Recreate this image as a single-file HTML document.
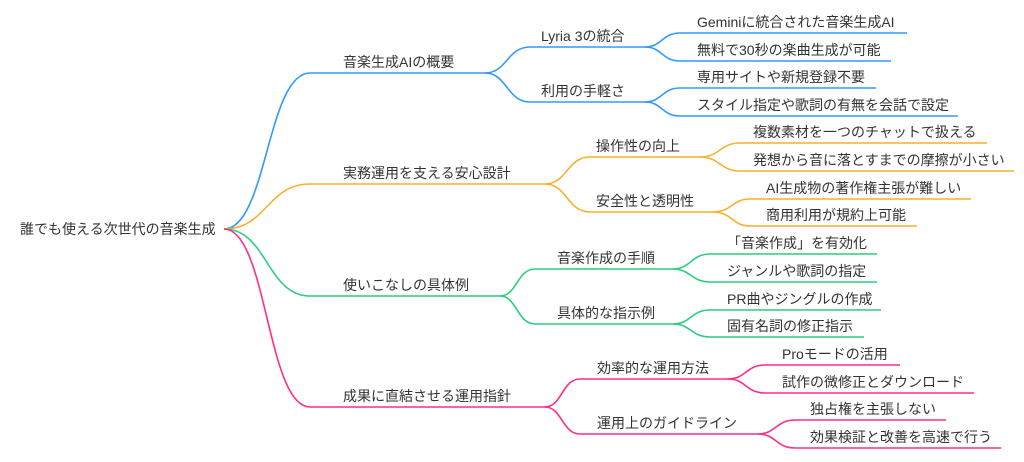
<!DOCTYPE html>
<html><head><meta charset="utf-8"><style>
html,body{margin:0;padding:0;background:#fff;}
svg text{font-family:"Liberation Sans","Noto Sans CJK JP",sans-serif;font-size:14px;fill:#333;}
path{fill:none;stroke-width:1.6;}
.b{stroke:#3399ff}.o{stroke:#f5b12e}.g{stroke:#2ecc80}.p{stroke:#ff2d87}
</style></head><body>
<svg width="1024" height="457" viewBox="0 0 1024 457" xmlns="http://www.w3.org/2000/svg">
<text x="20" y="234">誰でも使える次世代の音楽生成</text>
<!-- level1 -->
<path class="b" d="M224 229 C267 229 267 73 310 73 L485 73"/>
<path class="o" d="M224 229 C267 229 267 184 310 184 L545 184"/>
<path class="g" d="M224 229 C267 229 267 296 310 296 L500 296"/>
<path class="p" d="M224 229 C267 229 267 407 310 407 L545 407"/>
<text x="343" y="67">音楽生成AIの概要</text>
<text x="343" y="178">実務運用を支える安心設計</text>
<text x="343" y="290">使いこなしの具体例</text>
<text x="343" y="401">成果に直結させる運用指針</text>
<!-- blue -->
<path class="b" d="M485 73 C507 73 507 47 530 47 L645 47"/>
<path class="b" d="M485 73 C507 73 507 102 530 102 L645 102"/>
<text x="541" y="41">Lyria 3の統合</text>
<text x="541" y="96">利用の手軽さ</text>
<path class="b" d="M645 47 C662 47 662 33 680 33 L907 33"/>
<path class="b" d="M645 47 C662 47 662 61 680 61 L891 61"/>
<path class="b" d="M645 102 C662 102 662 88 680 88 L876 88"/>
<path class="b" d="M645 102 C662 102 662 116 680 116 L958 116"/>
<text x="697" y="27">Geminiに統合された音楽生成AI</text>
<text x="697" y="55">無料で30秒の楽曲生成が可能</text>
<text x="697" y="82">専用サイトや新規登録不要</text>
<text x="697" y="110">スタイル指定や歌詞の有無を会話で設定</text>
<!-- orange -->
<path class="o" d="M545 184 C567 184 567 157 590 157 L700 157"/>
<path class="o" d="M545 184 C567 184 567 212 590 212 L713 212"/>
<text x="596" y="151">操作性の向上</text>
<text x="596" y="206">安全性と透明性</text>
<path class="o" d="M700 157 C720 157 720 143 740 143 L987 143"/>
<path class="o" d="M700 157 C720 157 720 171 740 171 L1014 171"/>
<path class="o" d="M713 212 C732 212 732 199 750 199 L971 199"/>
<path class="o" d="M713 212 C732 212 732 226 750 226 L917 226"/>
<text x="753" y="137">複数素材を一つのチャットで扱える</text>
<text x="753" y="165">発想から音に落とすまでの摩擦が小さい</text>
<text x="766" y="193">AI生成物の著作権主張が難しい</text>
<text x="766" y="220">商用利用が規約上可能</text>
<!-- green -->
<path class="g" d="M500 296 C517 296 517 269 535 269 L673 269"/>
<path class="g" d="M500 296 C517 296 517 324 535 324 L673 324"/>
<text x="557" y="263">音楽作成の手順</text>
<text x="557" y="318">具体的な指示例</text>
<path class="g" d="M673 269 C691 269 691 254 710 254 L877 254"/>
<path class="g" d="M673 269 C691 269 691 282 710 282 L877 282"/>
<path class="g" d="M673 324 C691 324 691 310 710 310 L881 310"/>
<path class="g" d="M673 324 C691 324 691 337 710 337 L864 337"/>
<text x="727" y="248">「音楽作成」を有効化</text>
<text x="727" y="276">ジャンルや歌詞の指定</text>
<text x="727" y="304">PR曲やジングルの作成</text>
<text x="727" y="331">固有名詞の修正指示</text>
<!-- pink -->
<path class="p" d="M545 407 C562 407 562 379 580 379 L728 379"/>
<path class="p" d="M545 407 C562 407 562 434 580 434 L758 434"/>
<text x="597" y="373">効率的な運用方法</text>
<text x="597" y="428">運用上のガイドライン</text>
<path class="p" d="M728 379 C746 379 746 365 765 365 L900 365"/>
<path class="p" d="M728 379 C746 379 746 393 765 393 L974 393"/>
<path class="p" d="M758 434 C776 434 776 420 795 420 L946 420"/>
<path class="p" d="M758 434 C776 434 776 448 795 448 L1001 448"/>
<text x="782" y="359">Proモードの活用</text>
<text x="782" y="387">試作の微修正とダウンロード</text>
<text x="810" y="414">独占権を主張しない</text>
<text x="810" y="442">効果検証と改善を高速で行う</text>
</svg>
</body></html>
